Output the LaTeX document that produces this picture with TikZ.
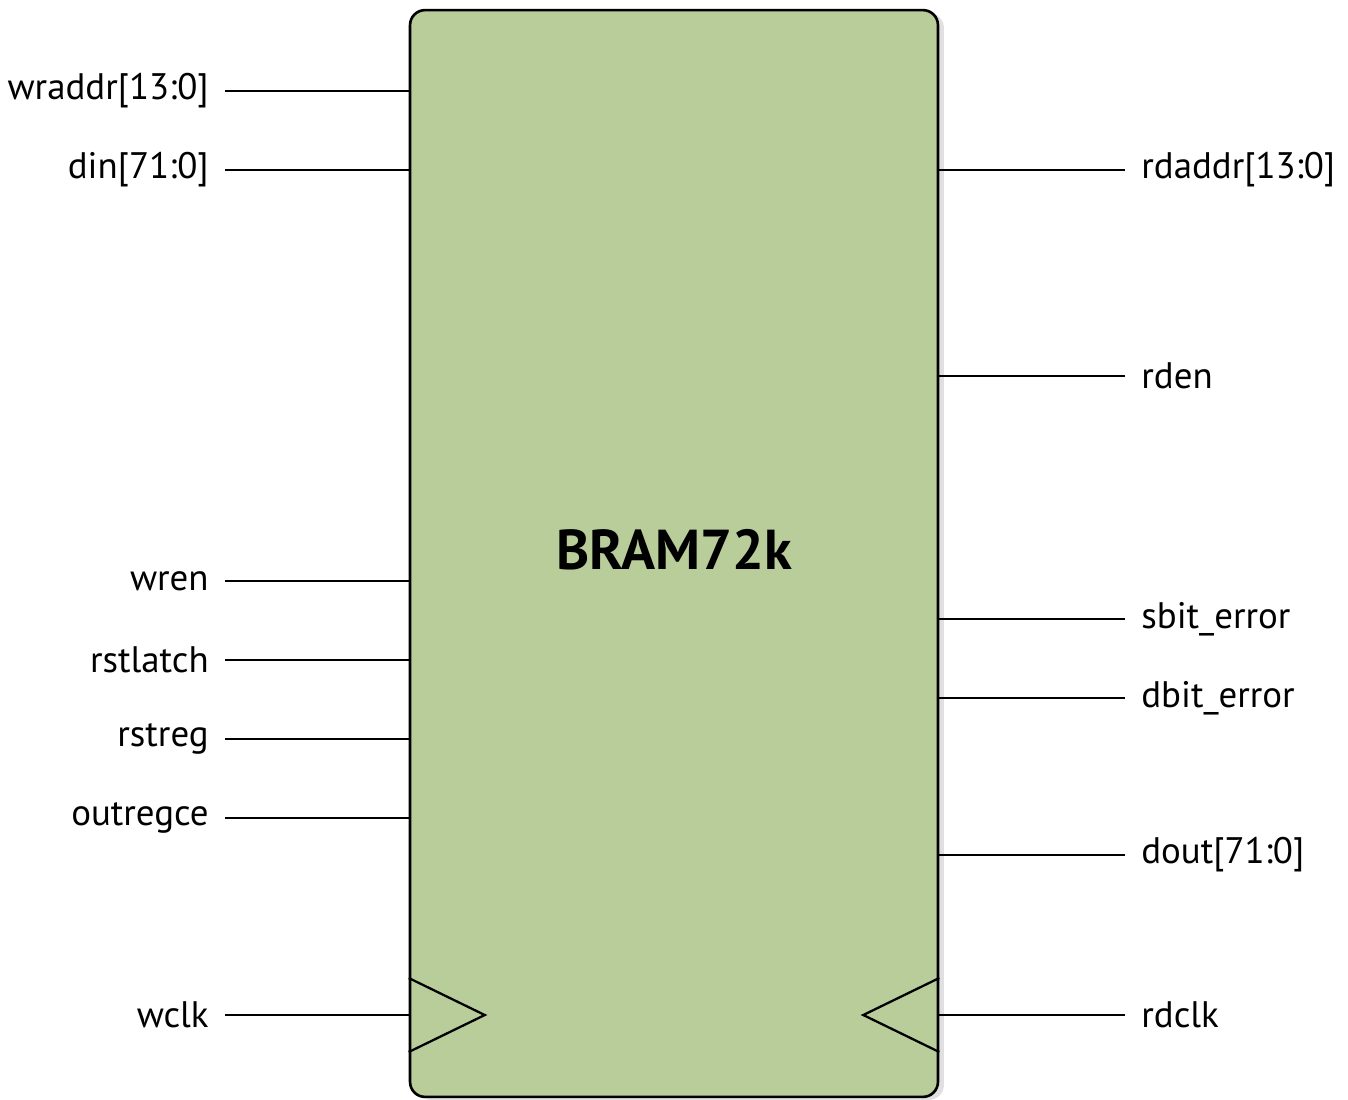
\documentclass[tikz,border=0pt]{standalone}
\usepackage{fontspec}
\setmainfont{PT Sans}
\usetikzlibrary{positioning, calc, shadows}
\definecolor{bramgreen}{HTML}{B9CD9A}
\definecolor{shadowgray}{HTML}{9A9A9A}

\tikzset{
  portlbl/.style={font=\fontsize{21}{25}\selectfont, inner xsep=0.32cm, inner ysep=0pt},
  portline/.style={line width=1.3pt},
}

\begin{document}
\begin{tikzpicture}[x=0.02cm, y=-0.02cm]

% Canvas
\useasboundingbox (0,0) rectangle (1348,1099);

% Memory block
\node[draw, line width=1.5pt, fill=bramgreen, rounded corners=0.3cm,
  minimum width=10.56cm, minimum height=21.74cm, inner sep=0pt,
  drop shadow={shadow xshift=0.12cm, shadow yshift=-0.06cm, fill=shadowgray, opacity=0.3}]
  (bram) at (674,553.5) {};

\node[font=\bfseries\fontsize{32}{38}\selectfont] (title) at (674,550) {BRAM72k};

% Left ports
\foreach \pname/\ptext/\py in {wraddr/wraddr[13:0]/91, din/din[71:0]/170,
    wren/wren/581, rstlatch/rstlatch/660, rstreg/rstreg/739,
    outregce/outregce/818, wclk/wclk/1015} {
  \node[portlbl, anchor=east] (\pname) at (225,\py) {\ptext};
  \draw[portline] (\pname.east) -- (\pname.east -| bram.west);
}

% Right ports
\foreach \pname/\ptext/\py in {rdaddr/rdaddr[13:0]/170, rden/rden/376,
    sbiterr/sbit\_error/619, dbiterr/dbit\_error/698,
    dout/dout[71:0]/855, rdclk/rdclk/1015} {
  \node[portlbl, anchor=west] (\pname) at (1125,\py) {\ptext};
  \draw[portline] (\pname.west) -- (\pname.west -| bram.east);
}

% Clock markers
\draw[portline, line join=miter]
  ($(wclk.east -| bram.west)+(0,-37)$) -- ($(wclk.east -| bram.west)+(76,0)$)
  -- ($(wclk.east -| bram.west)+(0,37)$);
\draw[portline, line join=miter]
  ($(rdclk.west -| bram.east)+(0,-37)$) -- ($(rdclk.west -| bram.east)+(-76,0)$)
  -- ($(rdclk.west -| bram.east)+(0,37)$);

\end{tikzpicture}
\end{document}
